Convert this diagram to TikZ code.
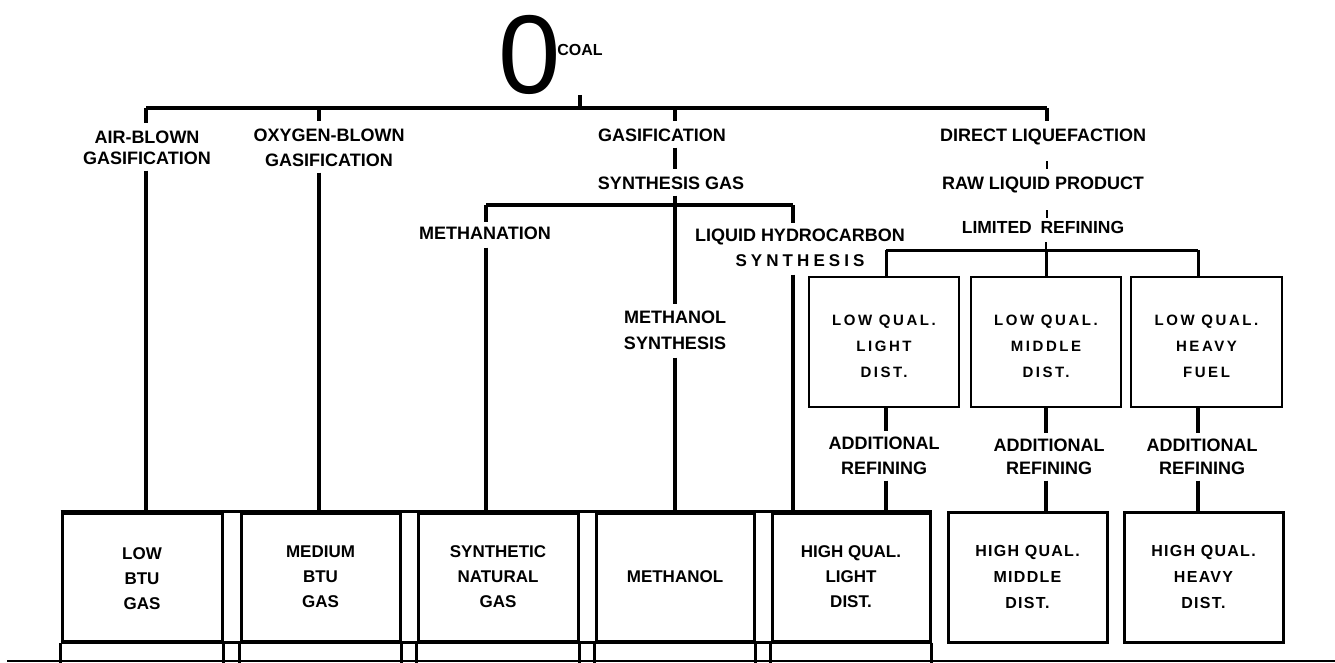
\documentclass[tikz,border=0pt]{standalone}
\usepackage{fontspec}
\setmainfont{Liberation Sans}
\begin{document}
\begin{tikzpicture}[x=1pt,y=-1pt,
  lbl/.style={font=\bfseries\fontsize{18}{22}\selectfont, align=center, inner sep=0pt, anchor=north},
  spaced/.style={font=\bfseries\fontsize{15}{26}\selectfont\addfontfeatures{LetterSpace=17}},
  lowbox/.style={draw, line width=2.5pt, inner sep=0pt, align=center, minimum width=150pt, minimum height=130pt, spaced},
  hibox/.style={draw, line width=3pt, inner sep=0pt, align=center, minimum height=128pt, font=\bfseries\fontsize{17}{25}\selectfont},
  hispaced/.style={font=\bfseries\fontsize{16}{26}\selectfont\addfontfeatures{LetterSpace=8}},
  ln/.style={line width=4pt},
  med/.style={line width=3pt},
  thinln/.style={line width=1.5pt}]
\useasboundingbox[fill=white] (0,0) rectangle (1335,662);

% --- top ---
\node[inner sep=0pt, font=\fontsize{112}{112}\selectfont] (zero) at (530,55) {0};
\node[inner sep=0pt, font=\bfseries\fontsize{16}{18}\selectfont] (coal) at (580,50) {COAL};

% --- labels ---
\node[lbl, font=\bfseries\fontsize{18}{21}\selectfont] (air) at (147,130.5) {AIR-BLOWN\\GASIFICATION};
\node[lbl, font=\bfseries\fontsize{18}{25}\selectfont] (oxy) at (329,128.5) {OXYGEN-BLOWN\\GASIFICATION};
\node[lbl] (gas) at (662,128.5) {GASIFICATION};
\node[lbl] (sg) at (671,176.5) {SYNTHESIS GAS};
\node[lbl] (meth) at (485,226.5) {METHANATION};
\node[lbl, font=\bfseries\fontsize{18}{25}\selectfont] (lhc) at (800,228.5) {LIQUID HYDROCARBON\\{\fontsize{17}{25}\selectfont\addfontfeatures{LetterSpace=24}SYNTHESIS}};
\node[lbl, font=\bfseries\fontsize{18}{26}\selectfont] (ms) at (675,310.5) {METHANOL\\SYNTHESIS};
\node[lbl] (dl) at (1043,128.5) {DIRECT LIQUEFACTION};
\node[lbl] (raw) at (1043,176.5) {RAW LIQUID PRODUCT};
\node[lbl, font=\bfseries\fontsize{17.5}{22}\selectfont] (lim) at (1043,221.5) {LIMITED\enspace REFINING};

% --- low quality boxes ---
\node[lowbox] (lq1) at (884,342) {\rule{0pt}{19pt}LOW QUAL.\\LIGHT\\DIST.};
\node[lowbox] (lq2) at (1046,342) {\rule{0pt}{19pt}LOW QUAL.\\MIDDLE\\DIST.};
\node[lowbox, minimum width=151pt] (lq3) at (1206.5,342) {\rule{0pt}{19pt}LOW QUAL.\\HEAVY\\FUEL};

\node[lbl, font=\bfseries\fontsize{18}{25}\selectfont] (ad1) at (884,436.5) {ADDITIONAL\\REFINING};
\node[lbl, font=\bfseries\fontsize{18}{23}\selectfont] (ad2) at (1049,438.5) {ADDITIONAL\\REFINING};
\node[lbl, font=\bfseries\fontsize{18}{23}\selectfont] (ad3) at (1202,438.5) {ADDITIONAL\\REFINING};

% --- product boxes ---
\node[hibox, minimum width=160pt] (b1) at (142,577) {\rule{0pt}{16pt}LOW\\BTU\\GAS};
\node[hibox, minimum width=159pt] (b2) at (320.5,577) {MEDIUM\\BTU\\GAS};
\node[hibox, minimum width=160pt] (b3) at (498,577) {SYNTHETIC\\NATURAL\\GAS};
\node[hibox, minimum width=158pt] (b4) at (675,577) {METHANOL};
\node[hibox, minimum width=158pt] (b5) at (851,577) {HIGH QUAL.\\LIGHT\\DIST.};
\node[hibox, minimum width=159pt, minimum height=130pt, hispaced] (b6) at (1027.5,577) {HIGH QUAL.\\MIDDLE\\DIST.};
\node[hibox, minimum width=159pt, minimum height=130pt, hispaced] (b7) at (1203.5,577) {HIGH QUAL.\\HEAVY\\DIST.};

% --- junction coordinates ---
\coordinate (cA) at (146,108);
\coordinate (cB) at (319,108);
\coordinate (cC) at (675,108);
\coordinate (cD) at (1047,108);
\coordinate (cM) at (486,205);
\coordinate (cL) at (793,205);
\coordinate (q1) at (886,250);
\coordinate (cQ) at (1046,250);
\coordinate (q3) at (1198,250);
\coordinate (fl) at (7,661);
\coordinate (fr) at (1335,661);

% --- main bus ---
\draw[ln] (cA) -- (cD);
\draw[ln] (zero.south -| coal) -- (coal |- cA);
\draw[ln, shorten >=8pt] (cA) -- (cA |- air.north);
\draw[ln, shorten >=8pt] (cB) -- (cB |- oxy.north);
\draw[ln, shorten >=8pt] (cC) -- (cC |- gas.north);
\draw[ln, shorten >=8pt] (cD) -- (cD |- dl.north);

% --- gasification branches ---
\draw[ln, shorten <=6pt] (cA |- air.south) -- (cA |- b1.north);
\draw[ln, shorten <=6pt] (cB |- oxy.south) -- (cB |- b2.north);
\draw[ln, shorten <=6pt, shorten >=8pt] (cC |- gas.south) -- (cC |- sg.north);
\draw[ln, shorten <=6pt, shorten >=7pt] (cC |- sg.south) -- (cC |- ms.north);
\draw[ln, shorten <=8pt] (cC |- ms.south) -- (cC |- b4.north);
\draw[ln] (cM) -- (cL);
\draw[ln, shorten >=5pt] (cM) -- (cM |- meth.north);
\draw[ln, shorten <=8pt] (cM |- meth.south) -- (cM |- b3.north);
\draw[ln, shorten >=6pt] (cL) -- (cL |- lhc.north);
\draw[ln, shorten <=8pt] (cL |- lhc.south) -- (cL |- b5.north);

% --- liquefaction branch ---
\draw[thinln, shorten <=16pt, shorten >=8pt] (cD |- dl.south) -- (cD |- raw.north);
\draw[thinln, shorten <=17pt, shorten >=4pt] (cD |- raw.south) -- (cD |- lim.north);
\draw[thinln, shorten <=8pt] (cQ |- lim.south) -- (cQ);
\draw[med] (q1) -- (q3);
\draw[med] (q1) -- (q1 |- lq1.north);
\draw[med] (cQ) -- (cQ |- lq2.north);
\draw[med] (q3) -- (q3 |- lq3.north);
\draw[ln, shorten >=6pt] (q1 |- lq1.south) -- (q1 |- ad1.north);
\draw[ln, shorten <=6pt] (q1 |- ad1.south) -- (q1 |- b5.north);
\draw[ln, shorten >=6pt] (cQ |- lq2.south) -- (cQ |- ad2.north);
\draw[ln, shorten <=6pt] (cQ |- ad2.south) -- (cQ |- b6.north);
\draw[ln, shorten >=6pt] (q3 |- lq3.south) -- (q3 |- ad3.north);
\draw[ln, shorten <=6pt] (q3 |- ad3.south) -- (q3 |- b7.north);

% --- table lines of the product row ---
\draw[med] (b1.north west) -- (b5.north east);
\draw[med] (b1.south west) -- (b5.south east);
\foreach \b in {b1,b2,b3,b4,b5}{
  \draw[med] (\b.south west) -- ++(0,21);
  \draw[med] (\b.south east) -- ++(0,21);
}
\draw[line width=1.2pt] (fl) -- (fr);
\end{tikzpicture}
\end{document}
